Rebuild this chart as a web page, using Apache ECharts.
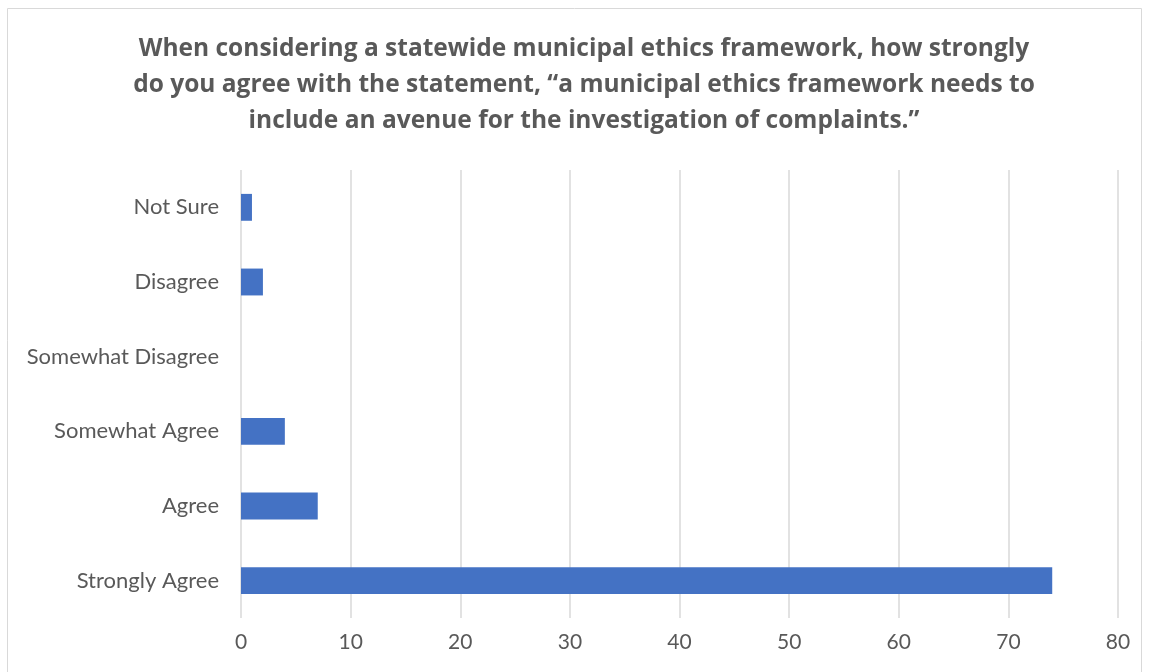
<!DOCTYPE html>
<html>
<head>
<meta charset="utf-8">
<script src="https://cdn.jsdelivr.net/npm/echarts@6/dist/echarts.min.js"></script>
<style>
  html, body { margin: 0; padding: 0; background: #fff; }
  #chart { width: 1150px; height: 672px; }
</style>
</head>
<body>
<div id="chart"></div>
<script>
const categories = ["Strongly Agree", "Agree", "Somewhat Agree", "Somewhat Disagree", "Disagree", "Not Sure"];
const counts = [74, 7, 4, 0, 2, 1];
const titleText = "When considering a statewide municipal ethics framework, how strongly\ndo you agree with the statement, \u201ca municipal ethics framework needs to\ninclude an avenue for the investigation of complaints.\u201d";

const chart = echarts.init(document.getElementById("chart"));
const option = {
  animation: false,
  graphic: [{
    type: "rect",
    shape: { x: 7.5, y: 8.5, width: 1134, height: 700 },
    style: { fill: "none", stroke: "#d9d9d9", lineWidth: 1 },
    silent: true
  }],
  title: {
    text: titleText,
    left: 579,
    textAlign: "center",
    top: 26,
    textStyle: {
      fontFamily: "Open Sans",
      fontWeight: "bold",
      fontSize: 24.5,
      lineHeight: 36,
      color: "#595959"
    }
  },
  grid: { left: 241, right: 32, top: 170, bottom: 54 },
  xAxis: {
    type: "value",
    min: 0,
    max: 80,
    interval: 10,
    axisLine: { show: false },
    axisTick: { show: false },
    splitLine: { lineStyle: { color: "#d9d9d9", width: 1.5 } },
    axisLabel: { color: "#595959", fontFamily: "Lato", fontSize: 21, margin: 14 }
  },
  yAxis: {
    type: "category",
    data: categories,
    axisLine: { show: false },
    axisTick: { show: false },
    axisLabel: { color: "#595959", fontFamily: "Lato", fontSize: 22, margin: 22 }
  },
  series: [{
    type: "bar",
    data: counts,
    barWidth: "36%",
    itemStyle: { color: "#4472c4" }
  }]
};
chart.setOption(option);
</script>
</body>
</html>
